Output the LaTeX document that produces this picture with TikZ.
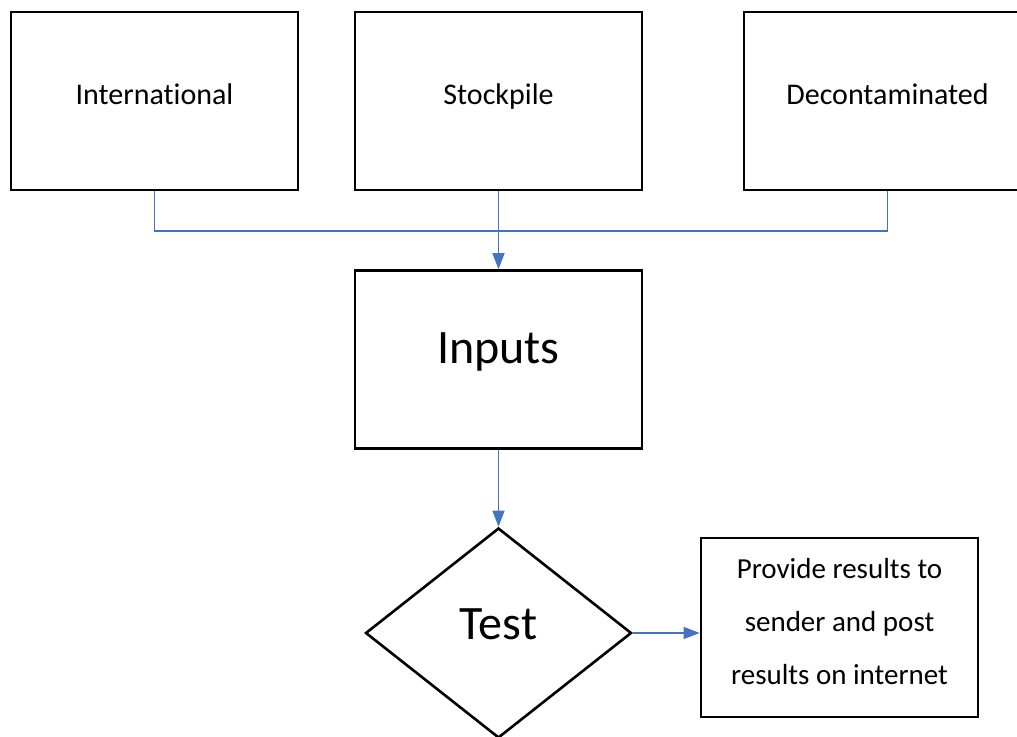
\documentclass[tikz,border=0pt]{standalone}
\usepackage{fontspec}
\setmainfont{Carlito}[Ligatures={NoCommon,NoContextual}]
\usepackage{tikz}
\usetikzlibrary{arrows.meta,shapes.geometric}
\definecolor{linkblue}{HTML}{4472C4}

\begin{document}
\begin{tikzpicture}[x=1pt,y=-1pt,
  box/.style={draw,line width=2.6pt,inner sep=0pt,minimum width=287pt,minimum height=178pt},
  smallbox/.style={box,font=\fontsize{30}{36}\selectfont,text height=20pt,text depth=14pt},
  bigbox/.style={box,font=\fontsize{48}{56}\selectfont,text height=32pt,text depth=25pt},
  link/.style={draw=linkblue,line width=1.3pt},
  linkarrow/.style={link,-{Triangle[width=12pt,length=16pt]},fill=linkblue}]
\useasboundingbox (0,0) rectangle (1017,736);
% sources
\node[smallbox] (intl) at (154.5,101) {International};
\node[smallbox] (stock) at (498.5,101) {Stockpile};
\node[smallbox] (decon) at (887.5,101) {Decontaminated};
% process
\node[bigbox] (inputs) at (498.5,359.5) {Inputs};
\node[diamond,draw,line width=2.6pt,inner sep=0pt,minimum width=266pt,minimum height=210pt,
  font=\fontsize{48}{56}\selectfont,text height=33pt,text depth=21pt] (test) at (498.5,633) {Test};
\node[draw,line width=2.6pt,inner sep=0pt,minimum width=277pt,minimum height=179pt,
  align=center,font=\fontsize{29}{53}\selectfont,text depth=12pt] (results) at (839.5,627.5)
  {Provide results to\\sender and post\\results on internet};
% connectors
\coordinate (join) at (498.5,231);
\draw[link] (intl.south) |- (join);
\draw[link] (decon.south) |- (join);
\draw[linkarrow] (stock.south) -- (inputs.north);
\draw[linkarrow] (inputs.south) -- (test.north);
\draw[linkarrow] (test.east) -- (test.east -| results.west);
\end{tikzpicture}
\end{document}
